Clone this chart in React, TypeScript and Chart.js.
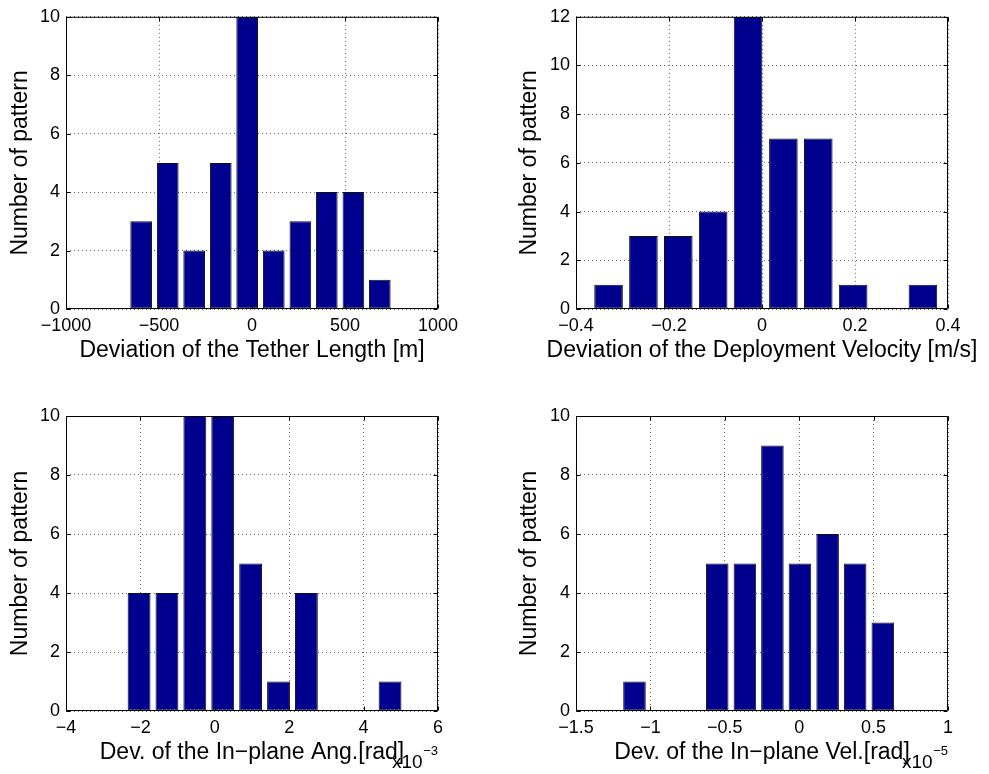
import React, { useEffect, useRef } from 'react';
import { Chart, registerables } from 'chart.js';

Chart.register(...registerables);

const FONT = '"Liberation Sans", Arial, Helvetica, sans-serif';

// ---- Data (bin centres and counts) ----
// Panel 1: Deviation of the Tether Length [m]
const lengthCenters = [-596, -453, -311, -168, -26, 117, 260, 402, 545, 687];
const lengthCounts = [3, 5, 2, 5, 10, 2, 3, 4, 4, 1];
const lengthTicks = [-1000, -500, 0, 500, 1000];

// Panel 2: Deviation of the Deployment Velocity [m/s]
const velocityCenters = [-0.33, -0.255, -0.18, -0.105, -0.03, 0.046, 0.121, 0.196, 0.271, 0.346];
const velocityCounts = [1, 3, 3, 4, 12, 7, 7, 1, 0, 1];
const velocityTicks = [-0.4, -0.2, 0, 0.2, 0.4];

// Panel 3: Dev. of the In-plane Ang. [rad] (x 10^-3)
const angleCenters = [-2.036, -1.286, -0.537, 0.213, 0.963, 1.713, 2.462, 3.212, 3.962, 4.711];
const angleCounts = [4, 4, 10, 10, 5, 1, 4, 0, 0, 1];
const angleTicks = [-4, -2, 0, 2, 4, 6];

// Panel 4: Dev. of the In-plane Vel. [rad] (x 10^-5)
const inVelCenters = [-1.107, -0.922, -0.736, -0.551, -0.365, -0.18, 0.005, 0.191, 0.376, 0.562];
const inVelCounts = [1, 0, 0, 5, 5, 9, 5, 6, 5, 3];
const inVelTicks = [-1.5, -1, -0.5, 0, 0.5, 1];

const countTicks10 = [0, 2, 4, 6, 8, 10];
const countTicks12 = [0, 2, 4, 6, 8, 10, 12];

const yTitle = 'Number of pattern';

function fmt(v: number): string {
  const r = Math.round(v * 1e6) / 1e6;
  return String(r).replace('-', '\u2212');
}

const boxPlugin = {
  id: 'matlabBox',
  afterDraw(chart: any, _args: any, opts: any) {
    const { ctx, chartArea } = chart;
    const { left, right, top, bottom } = chartArea;
    const xs = chart.scales.x;
    const ys = chart.scales.y;
    ctx.save();
    ctx.strokeStyle = '#000';
    ctx.lineWidth = 1;
    ctx.setLineDash([]);
    const L = left + 0.5, R = right - 0.5, T = top + 0.5, B = bottom - 0.5;
    ctx.beginPath();
    ctx.rect(L, T, R - L, B - T);
    ctx.stroke();
    const tl = 4;
    ctx.beginPath();
    (opts.xTicks || []).forEach((v: number) => {
      const px = Math.round(xs.getPixelForValue(v)) + 0.5;
      ctx.moveTo(px, B); ctx.lineTo(px, B - tl);
      ctx.moveTo(px, T); ctx.lineTo(px, T + tl);
    });
    (opts.yTicks || []).forEach((v: number) => {
      const py = Math.round(ys.getPixelForValue(v)) + 0.5;
      ctx.moveTo(L, py); ctx.lineTo(L + tl, py);
      ctx.moveTo(R, py); ctx.lineTo(R - tl, py);
    });
    ctx.stroke();
    ctx.fillStyle = '#000';
    if (opts.xTitle) {
      ctx.font = `23px ${FONT}`;
      ctx.textAlign = 'center';
      ctx.textBaseline = 'middle';
      ctx.fillText(opts.xTitle, (left + right) / 2, bottom + 42);
    }
    if (opts.exponent) {
      ctx.textBaseline = 'alphabetic';
      ctx.font = `13px ${FONT}`;
      const wSup = ctx.measureText(opts.exponent).width;
      ctx.textAlign = 'left';
      ctx.fillText(opts.exponent, right - wSup, bottom + 44);
      ctx.font = `19px ${FONT}`;
      ctx.textAlign = 'right';
      ctx.fillText('x10', right - wSup - 0.5, bottom + 57);
    }
    ctx.restore();
  },
};

type Layout = {
  left: number; top: number; width: number; height: number;
  padTop: number; padRight: number; yWidth: number; xHeight: number;
  yTitlePad: number;
};

type PanelProps = {
  centers: number[]; counts: number[]; xTicks: number[]; yTicks: number[];
  xTitle: string; exponent?: string; lay: Layout;
};

function HistPanel({ centers, counts, xTicks, yTicks, xTitle, exponent, lay }: PanelProps) {
  const ref = useRef<HTMLCanvasElement>(null);
  useEffect(() => {
    const canvas = ref.current;
    if (!canvas) return;
    const tickFont = { size: 18, family: FONT };
    const titleFont = { size: 23, family: FONT, lineHeight: 1 };
    const chart = new Chart(canvas, {
      type: 'bar',
      data: {
        datasets: [
          {
            data: centers.map((x, i) => ({ x, y: counts[i] })),
            backgroundColor: '#00008F',
            borderColor: '#111',
            borderWidth: 1,
            borderSkipped: false,
            barPercentage: 0.82,
            categoryPercentage: 1,
            inflateAmount: 0,
          } as any,
        ],
      },
      options: {
        responsive: false,
        animation: false,
        devicePixelRatio: 1,
        layout: { padding: { top: lay.padTop, right: lay.padRight, bottom: 0, left: 0 } },
        plugins: {
          legend: { display: false },
          tooltip: { enabled: false },
          matlabBox: { exponent, xTicks, yTicks, xTitle },
        } as any,
        scales: {
          x: {
            type: 'linear',
            min: xTicks[0],
            max: xTicks[xTicks.length - 1],
            offset: false,
            afterBuildTicks: (s: any) => { s.ticks = xTicks.map((v) => ({ value: v })); },
            afterFit: (s: any) => { s.height = lay.xHeight; },
            grid: { offset: false, color: '#666', lineWidth: 1, drawTicks: false },
            border: { display: false, dash: [1, 3] },
            ticks: {
              padding: 6, maxRotation: 0, autoSkip: false, font: tickFont, color: '#000',
              callback: (v: any) => fmt(Number(v)),
            },
            title: { display: false },
          },
          y: {
            type: 'linear',
            min: yTicks[0],
            max: yTicks[yTicks.length - 1],
            afterBuildTicks: (s: any) => { s.ticks = yTicks.map((v) => ({ value: v })); },
            afterFit: (s: any) => { s.width = lay.yWidth; },
            grid: { color: '#666', lineWidth: 1, drawTicks: false },
            border: { display: false, dash: [1, 3] },
            ticks: {
              padding: 6, autoSkip: false, font: tickFont, color: '#000',
              callback: (v: any) => fmt(Number(v)),
            },
            title: {
              display: true, text: yTitle, font: titleFont, color: '#000',
              padding: { top: lay.yTitlePad, bottom: 0 },
            },
          },
        },
      } as any,
      plugins: [boxPlugin as any],
    });
    return () => chart.destroy();
  }, []);
  return (
    <canvas
      ref={ref}
      width={lay.width}
      height={lay.height}
      style={{ position: 'absolute', left: lay.left, top: lay.top, width: lay.width, height: lay.height, display: 'block' }}
    />
  );
}

const layTL: Layout = { left: 0, top: 0, width: 490, height: 387, padTop: 16, padRight: 52, yWidth: 66, xHeight: 78, yTitlePad: 9.5 };
const layTR: Layout = { left: 490, top: 0, width: 499, height: 387, padTop: 16, padRight: 41, yWidth: 86, xHeight: 78, yTitlePad: 28.5 };
const layBL: Layout = { left: 0, top: 387, width: 490, height: 387, padTop: 29, padRight: 52, yWidth: 66, xHeight: 63, yTitlePad: 9.5 };
const layBR: Layout = { left: 490, top: 387, width: 499, height: 387, padTop: 29, padRight: 41, yWidth: 86, xHeight: 63, yTitlePad: 28.5 };

export default function App() {
  return (
    <div style={{ position: 'absolute', left: 0, top: 0, width: 989, height: 774, background: '#fff', overflow: 'hidden' }}>
      <HistPanel centers={lengthCenters} counts={lengthCounts} xTicks={lengthTicks} yTicks={countTicks10}
        xTitle="Deviation of the Tether Length [m]" lay={layTL} />
      <HistPanel centers={velocityCenters} counts={velocityCounts} xTicks={velocityTicks} yTicks={countTicks12}
        xTitle="Deviation of the Deployment Velocity [m/s]" lay={layTR} />
      <HistPanel centers={angleCenters} counts={angleCounts} xTicks={angleTicks} yTicks={countTicks10}
        xTitle={'Dev. of the In\u2212plane Ang.[rad]'} exponent={'\u22123'} lay={layBL} />
      <HistPanel centers={inVelCenters} counts={inVelCounts} xTicks={inVelTicks} yTicks={countTicks10}
        xTitle={'Dev. of the In\u2212plane Vel.[rad]'} exponent={'\u22125'} lay={layBR} />
    </div>
  );
}
